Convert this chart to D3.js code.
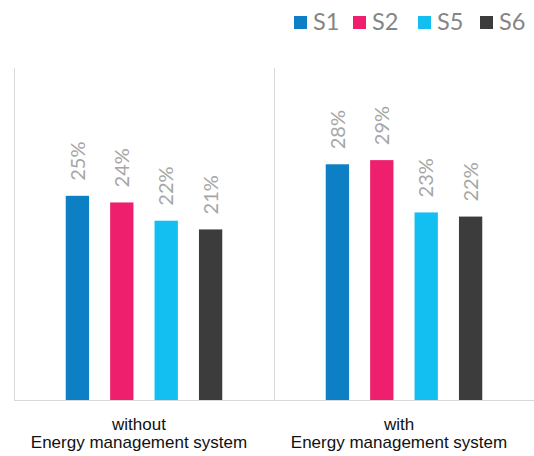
<!DOCTYPE html>
<html>
<head>
<meta charset="utf-8">
<script src="https://cdn.jsdelivr.net/npm/d3@7"></script>
<style>
  html, body { margin: 0; padding: 0; background: #fff; }
  svg { display: block; }
</style>
</head>
<body>
<svg id="chart" width="534" height="456"></svg>
<script>
const categories = ["without\nEnergy management system", "with\nEnergy management system"];
const seriesNames = ["S1", "S2", "S5", "S6"];
const seriesColors = ["#0d80c5", "#ee1f6c", "#13bff0", "#3c3c3c"];
const valuesS1 = [0.246, 0.284];
const valuesS2 = [0.238, 0.289];
const valuesS5 = [0.216, 0.226];
const valuesS6 = [0.2055, 0.221];
const yDomain = [0, 0.4];

(function () {
const seriesValues = [valuesS1, valuesS2, valuesS5, valuesS6];
const data = categories.map((c, ci) => ({
  cat: c,
  vals: seriesNames.map((s, si) => ({ s, v: seriesValues[si][ci], color: seriesColors[si] }))
}));

const svg = d3.select("#chart");
const mLeft = 14, mRight = 534, mTop = 68, mBottom = 400;

const x0 = d3.scaleBand().domain(categories).range([mLeft, mRight]).padding(0);
const x1 = d3.scaleBand().domain(seriesNames).range([0, x0.bandwidth()])
  .paddingInner(0.475).paddingOuter(1.165);
const y = d3.scaleLinear().domain(yDomain).range([mBottom, mTop]);

// axis lines
const grid = svg.append("g").attr("stroke", "#d9d9d9").attr("stroke-width", 1);
grid.append("line").attr("x1", mLeft + 0.5).attr("x2", mLeft + 0.5).attr("y1", mTop).attr("y2", mBottom);
categories.slice(1).forEach(c => {
  const xx = Math.round(x0(c)) + 0.5;
  grid.append("line").attr("x1", xx).attr("x2", xx).attr("y1", mTop).attr("y2", mBottom);
});

// bars
const groups = svg.append("g").selectAll("g").data(data).join("g")
  .attr("transform", d => `translate(${x0(d.cat)},0)`);
groups.selectAll("rect").data(d => d.vals).join("rect")
  .attr("x", d => x1(d.s))
  .attr("width", x1.bandwidth())
  .attr("y", d => y(d.v))
  .attr("height", d => y(0) - y(d.v))
  .attr("fill", d => d.color);

// data labels
const fmt = d3.format(".0%");
groups.selectAll("text").data(d => d.vals).join("text")
  .attr("transform", d => `translate(${x1(d.s) + x1.bandwidth() / 2},${y(d.v) - 15}) rotate(-90)`)
  .attr("dy", "0.36em")
  .attr("text-anchor", "start")
  .attr("font-family", "Lato, sans-serif")
  .attr("font-size", 20)
  .attr("fill", "#a6a6a6")
  .text(d => fmt(d.v));

// bottom axis line
svg.append("line").attr("x1", mLeft).attr("x2", mRight)
  .attr("y1", mBottom + 0.5).attr("y2", mBottom + 0.5)
  .attr("stroke", "#d9d9d9").attr("stroke-width", 1);

// category labels
const xAxis = svg.append("g").attr("transform", `translate(0,${mBottom})`)
  .call(d3.axisBottom(x0).tickSize(0).tickFormat(() => ""));
xAxis.select(".domain").remove();
xAxis.selectAll(".tick").each(function(d) {
  const t = d3.select(this).append("text")
    .attr("text-anchor", "middle")
    .attr("font-family", "'Liberation Sans', Arial, sans-serif")
    .attr("font-size", 17)
    .attr("fill", "#111")
    .attr("transform", "translate(-5,0)");
  d.split("\n").forEach((line, i) => {
    t.append("tspan").attr("x", 0).attr("y", 30 + i * 18).text(line);
  });
});

// legend
const legendX = [294, 353, 418, 480];
const legend = svg.append("g");
seriesNames.forEach((s, i) => {
  const g = legend.append("g");
  g.append("rect").attr("x", legendX[i]).attr("y", 16).attr("width", 13).attr("height", 13)
    .attr("fill", seriesColors[i]);
  g.append("text").attr("x", legendX[i] + 19).attr("y", 30)
    .attr("font-family", "Lato, sans-serif").attr("font-size", 23.5)
    .attr("fill", "#858585").text(s);
});
})();
</script>
</body>
</html>
